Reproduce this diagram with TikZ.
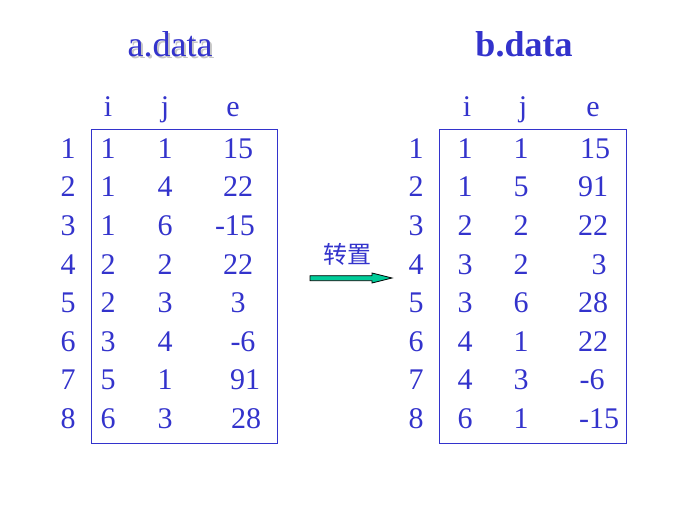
\documentclass[tikz,border=0pt]{standalone}
\usepackage{fontspec}
\setmainfont{Liberation Serif}
\newfontfamily\cjkfont{Noto Sans CJK SC}
\usetikzlibrary{positioning}
\definecolor{txtblue}{RGB}{51,51,204}
\definecolor{arrgreen}{RGB}{0,204,153}
\newcommand{\shadowtext}[1]{\makebox[0pt][l]{\hspace{2pt}\raisebox{-2pt}{\textcolor{gray!45}{#1}}}#1}

\begin{document}
\begin{tikzpicture}[x=1pt,y=-1pt,
    cell/.style={anchor=base,inner sep=0pt,text=txtblue,font=\fontsize{30}{30}\selectfont},
    title/.style={anchor=base,inner sep=0pt,font=\fontsize{36}{36}\selectfont},
    tablebox/.style={draw=txtblue,line width=1pt}]
    \useasboundingbox[fill=white] (0,0) rectangle (680,512);

    % titles
    \node[title,text=txtblue] (atitle) at (170,56) {\shadowtext{a.data}};
    \node[title,text=txtblue,font=\fontsize{36}{36}\selectfont\bfseries] (btitle) at (524,56.5) {b.data};

    % headers
    \node[cell] (ahi) at (108,116) {i};
    \node[cell] (ahj) at (165,116) {j};
    \node[cell] (ahe) at (233,116) {e};
    \node[cell] (bhi) at (467,116) {i};
    \node[cell] (bhj) at (523,116) {j};
    \node[cell] (bhe) at (593,116) {e};

    % boxes
    \draw[tablebox] (91.7,129) rectangle (277,443.5);
    \draw[tablebox] (439,129) rectangle (626,443.5);

    % a.data rows
    \foreach \n/\i/\j/\e/\ex [evaluate=\n as \y using 158.3+(\n-1)*38.57] in
        {1/1/1/15/238, 2/1/4/22/238, 3/1/6/-15/235, 4/2/2/22/238,
         5/2/3/3/238, 6/3/4/-6/243, 7/5/1/91/245, 8/6/3/28/246}
    {
        \node[cell] (an\n) at (68,\y) {\n};
        \node[cell] (ai\n) at (108,\y) {\i};
        \node[cell] (aj\n) at (165,\y) {\j};
        \node[cell] (ae\n) at (\ex,\y) {\e};
    }

    % b.data rows
    \foreach \n/\i/\j/\e/\ex [evaluate=\n as \y using 158.3+(\n-1)*38.57] in
        {1/1/1/15/595, 2/1/5/91/593, 3/2/2/22/593, 4/3/2/3/599,
         5/3/6/28/593, 6/4/1/22/593, 7/4/3/-6/592, 8/6/1/-15/599}
    {
        \node[cell] (bn\n) at (416,\y) {\n};
        \node[cell] (bi\n) at (465,\y) {\i};
        \node[cell] (bj\n) at (521,\y) {\j};
        \node[cell] (be\n) at (\ex,\y) {\e};
    }

    % transpose arrow
    \node[inner sep=0pt,text=txtblue,font=\cjkfont\fontsize{24}{24}\selectfont] (trans) at (347,254) {转置};
    \draw[fill=arrgreen,line width=0.8pt] (310,275.7) -- (372,275.7) -- (372,273) -- (392,278)
        -- (372,283) -- (372,280.7) -- (310,280.7) -- cycle;
\end{tikzpicture}
\end{document}
